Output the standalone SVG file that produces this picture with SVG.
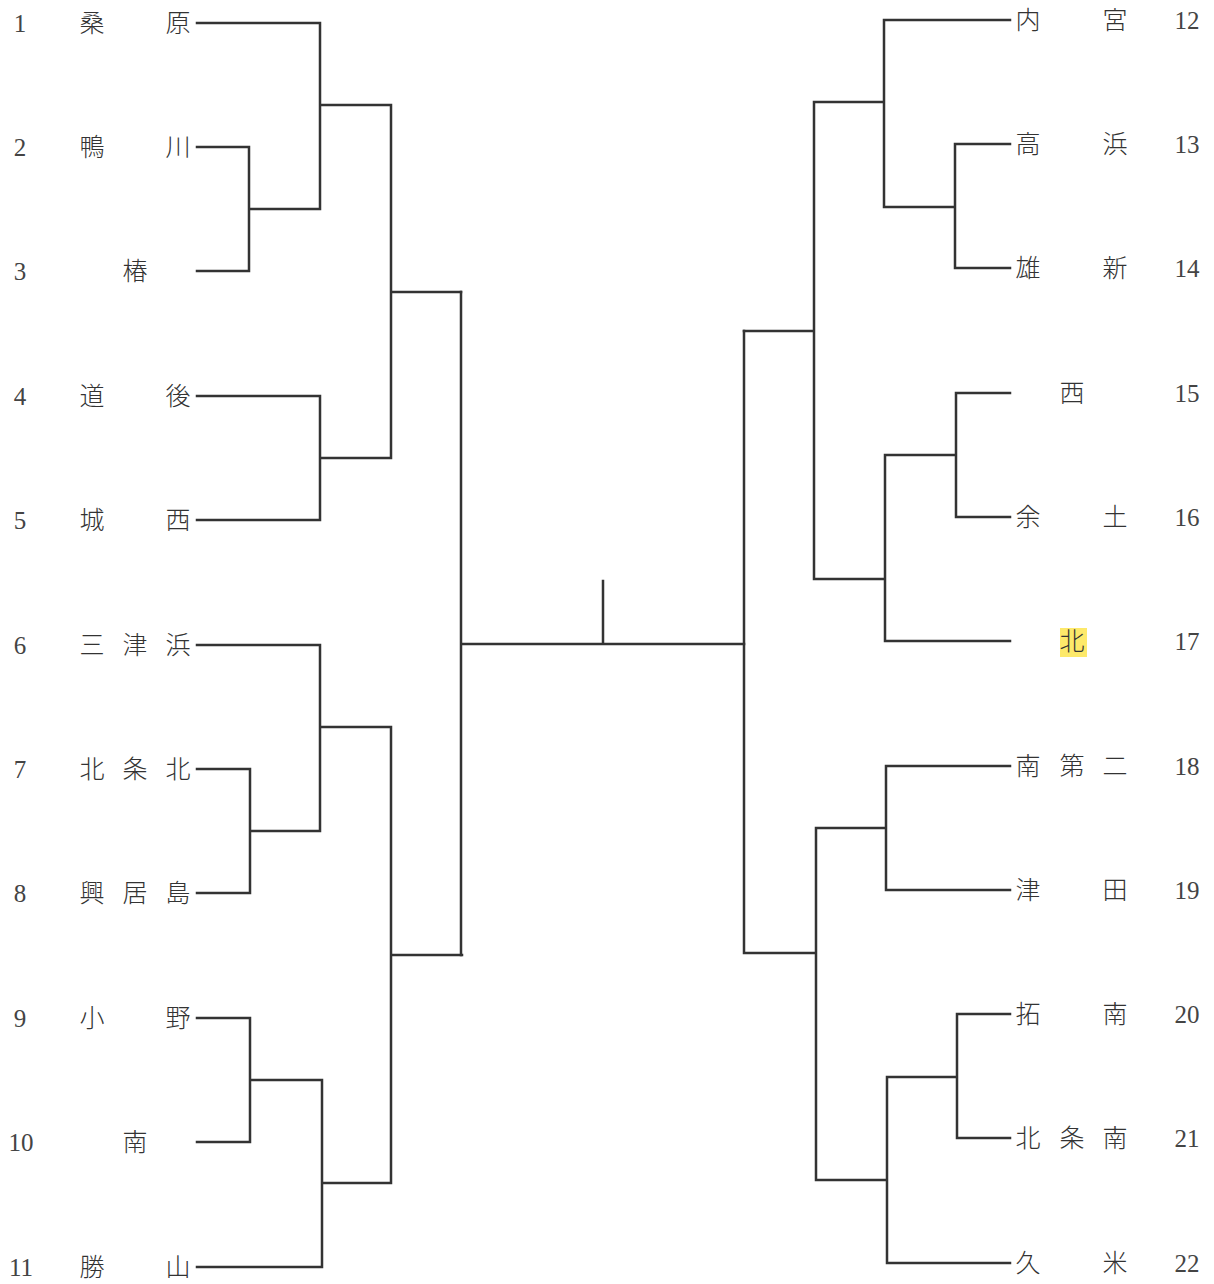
<svg xmlns="http://www.w3.org/2000/svg" width="1214" height="1284" viewBox="0 0 1214 1284">
<style>
.num{font-family:"Liberation Serif","DejaVu Serif",serif;font-size:25px;fill:#444;text-anchor:middle}
.nm{font-family:"Noto Sans CJK JP","Noto Sans CJK SC",sans-serif;font-size:25px;font-weight:300;fill:#333;text-anchor:middle}
.ln{fill:none;stroke:#333;stroke-width:2.5;stroke-linejoin:miter;stroke-linecap:square}
</style>
<rect width="1214" height="1284" fill="#fff"/>
<g id="connectors" class="ln">
<path d="M197,23H320V209M197,147H249V271H197M249,209H320M320,105H391M197,396H320V520H197M320,458H391M391,105V458M391,292H461"/>
<path d="M197,645H320V831M197,769H250V893H197M250,831H320M320,727H391M197,1018H250V1142H197M250,1080H322M197,1267H322V1080M322,1183H391M391,727V1183M391,955H462"/>
<path d="M461,292V955M461,644H744M603,581V644"/>
<path d="M1010,20H884V207M1010,144H955V268H1010M955,207H884M884,102H814M1010,393H956V517H1010M956,455H885M1010,641H885V455M885,579H815M814,102V579M814,331H744"/>
<path d="M1010,766H886V890H1010M886,828H816M1010,1014H957V1138H1010M957,1077H887M1010,1263H887V1077M887,1180H816M816,828V1180M816,953H745M744,331V953"/>
</g>
<g id="team1"><text class="num" x="20" y="32">1</text><text class="nm" x="92 178" y="32">桑原</text></g>
<g id="team2"><text class="num" x="20" y="156">2</text><text class="nm" x="92 178" y="156">鴨川</text></g>
<g id="team3"><text class="num" x="20" y="280">3</text><text class="nm" x="135" y="280">椿</text></g>
<g id="team4"><text class="num" x="20" y="405">4</text><text class="nm" x="92 178" y="405">道後</text></g>
<g id="team5"><text class="num" x="20" y="529">5</text><text class="nm" x="92 178" y="529">城西</text></g>
<g id="team6"><text class="num" x="20" y="654">6</text><text class="nm" x="92 135 178" y="654">三津浜</text></g>
<g id="team7"><text class="num" x="20" y="778">7</text><text class="nm" x="92 135 178" y="778">北条北</text></g>
<g id="team8"><text class="num" x="20" y="902">8</text><text class="nm" x="92 135 178" y="902">興居島</text></g>
<g id="team9"><text class="num" x="20" y="1027">9</text><text class="nm" x="92 178" y="1027">小野</text></g>
<g id="team10"><text class="num" x="21" y="1151">10</text><text class="nm" x="135" y="1151">南</text></g>
<g id="team11"><text class="num" x="21" y="1276">11</text><text class="nm" x="92 178" y="1276">勝山</text></g>
<g id="team12"><text class="num" x="1187" y="29">12</text><text class="nm" x="1028 1115" y="29">内宮</text></g>
<g id="team13"><text class="num" x="1187" y="153">13</text><text class="nm" x="1028 1115" y="153">高浜</text></g>
<g id="team14"><text class="num" x="1187" y="277">14</text><text class="nm" x="1028 1115" y="277">雄新</text></g>
<g id="team15"><text class="num" x="1187" y="402">15</text><text class="nm" x="1072" y="402">西</text></g>
<g id="team16"><text class="num" x="1187" y="526">16</text><text class="nm" x="1028 1115" y="526">余土</text></g>
<g id="team17"><rect x="1060" y="628" width="27" height="29" fill="#fde96a"/><text class="num" x="1187" y="650">17</text><text class="nm" x="1072" y="650">北</text></g>
<g id="team18"><text class="num" x="1187" y="775">18</text><text class="nm" x="1028 1072 1115" y="775">南第二</text></g>
<g id="team19"><text class="num" x="1187" y="899">19</text><text class="nm" x="1028 1115" y="899">津田</text></g>
<g id="team20"><text class="num" x="1187" y="1023">20</text><text class="nm" x="1028 1115" y="1023">拓南</text></g>
<g id="team21"><text class="num" x="1187" y="1147">21</text><text class="nm" x="1028 1072 1115" y="1147">北条南</text></g>
<g id="team22"><text class="num" x="1187" y="1272">22</text><text class="nm" x="1028 1115" y="1272">久米</text></g>
</svg>
